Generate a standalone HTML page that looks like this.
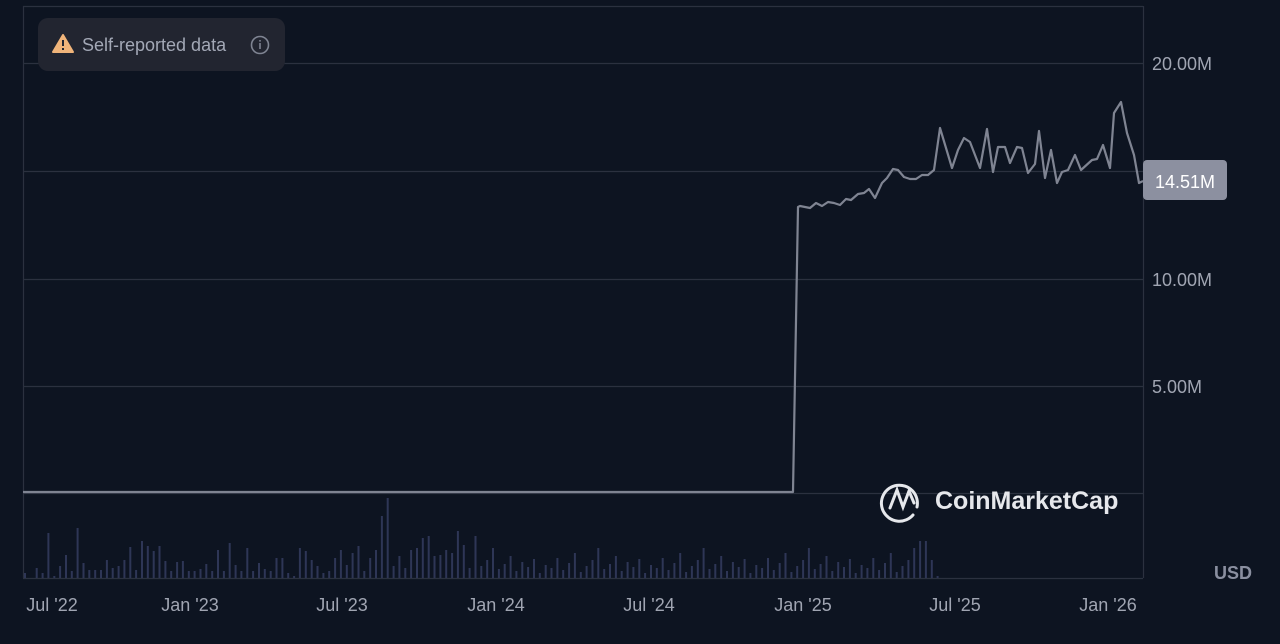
<!DOCTYPE html>
<html><head><meta charset="utf-8"><style>
body{margin:0;background:#0d1421;width:1280px;height:644px;overflow:hidden;font-family:"Liberation Sans",sans-serif}
</style></head><body>
<svg width="1280" height="644" xmlns="http://www.w3.org/2000/svg" style="position:absolute;left:0;top:0">
<rect width="1280" height="644" fill="#0d1421"/>
<g stroke="#2b313f" stroke-width="1.2" fill="none">
<line x1="23" y1="6.5" x2="1143" y2="6.5"/>
<line x1="23" y1="63.5" x2="1143" y2="63.5"/>
<line x1="23" y1="171.5" x2="1143" y2="171.5"/>
<line x1="23" y1="279.5" x2="1143" y2="279.5"/>
<line x1="23" y1="386.5" x2="1143" y2="386.5"/>
<line x1="23" y1="493.5" x2="1143" y2="493.5"/>
<line x1="23.5" y1="6" x2="23.5" y2="578"/>
<line x1="1143.5" y1="6" x2="1143.5" y2="578"/>
<line x1="23" y1="578.5" x2="1143" y2="578.5"/>
</g>
<g id="bars" fill="#2e3656"></g>
<polyline fill="none" stroke="#7f8492" stroke-width="2.2" stroke-linejoin="round" points="23,492 793,492 798,207 800,206 810,208 816,203 822,206 828,202 834,203 840,205 846,199 851,200 858,194 864,193 869,189 875,198 882,183 887,178 893,169 898,170 904,177 910,179 916,179 922,175 928,175 934,170 940,128 952,168 958,150 964,138 970,142 980,168 987,129 993,172 998,147 1005,147 1010,163 1017,147 1022,148 1028,173 1035,164 1039,131 1045,178 1051,150 1057,183 1062,172 1068,170 1075,155 1081,170 1092,160 1097,159 1103,145 1110,168 1114,113 1121,102 1127,133 1134,155 1139,183 1143,181"/>
<g fill="#a0a5b2" font-size="18">
<text x="1152" y="70">20.00M</text>
<text x="1152" y="286">10.00M</text>
<text x="1152" y="393">5.00M</text>
<text x="1214" y="579" font-weight="bold" fill="#8a8fa0">USD</text>
<text x="52" y="611" text-anchor="middle">Jul '22</text>
<text x="190" y="611" text-anchor="middle">Jan '23</text>
<text x="342" y="611" text-anchor="middle">Jul '23</text>
<text x="496" y="611" text-anchor="middle">Jan '24</text>
<text x="649" y="611" text-anchor="middle">Jul '24</text>
<text x="803" y="611" text-anchor="middle">Jan '25</text>
<text x="955" y="611" text-anchor="middle">Jul '25</text>
<text x="1108" y="611" text-anchor="middle">Jan '26</text>
</g>
<rect x="1143" y="160" width="84" height="40" rx="4" fill="#8c90a0"/>
<text x="1185" y="188" text-anchor="middle" font-size="18" fill="#ffffff">14.51M</text>
<rect x="38" y="18" width="247" height="53" rx="10" fill="#222530"/>
<path d="M63,35 L73,52 L53,52 Z" fill="#f0b47a" stroke="#f0b47a" stroke-width="2" stroke-linejoin="round"/>
<rect x="62" y="40" width="2" height="6" fill="#222530"/><rect x="62" y="48" width="2" height="2" fill="#222530"/>
<text x="82" y="51" font-size="18" fill="#a3a8b6">Self-reported data</text>
<circle cx="260" cy="45" r="8.5" fill="none" stroke="#7f8492" stroke-width="1.6"/>
<rect x="259.2" y="43" width="1.6" height="6" fill="#7f8492"/><rect x="259.2" y="40" width="1.6" height="1.6" fill="#7f8492"/>
<g fill="none" stroke="#e6e8ec" stroke-width="3" stroke-linecap="round">
<path d="M917,507 A18,18 0 1 0 913,515"/>
<path d="M890,508 L897,490 L903,507 L909,491 L914,503"/>
</g>
<text x="935" y="509" font-size="25" font-weight="bold" fill="#e6e8ec">CoinMarketCap</text>
</svg>
<script>
var g=document.getElementById('bars'),s='';
var h=[5,0,10,5,45,2,12,23,7,50,15,8,8,8,18,10,12,18,31,8,37,32,27,32,17,7,16,17,7,7,9,14,7,28,7,35,13,7,30,7,15,9,7,20,20,5,2,30,27,18,12,5,7,20,28,13,25,32,7,20,28,62,80,12,22,10,28,30,40,42,22,23,28,25,47,33,10,42];
var x=24,i=0;
while(x<940){var v=i<h.length?h[i]:[10,20,8,15,25,6,12,18,30,9,14,22,7,16,11,19,5,13][i%18];if(x>915&&x<925)v=37;if(x>925)v=Math.min(v,18);if(x>934)v=2;
s+='<rect x="'+x.toFixed(1)+'" y="'+(578-v)+'" width="2" height="'+v+'"/>';x+=5.85;i++;}
g.innerHTML=s;
</script>
</body></html>
